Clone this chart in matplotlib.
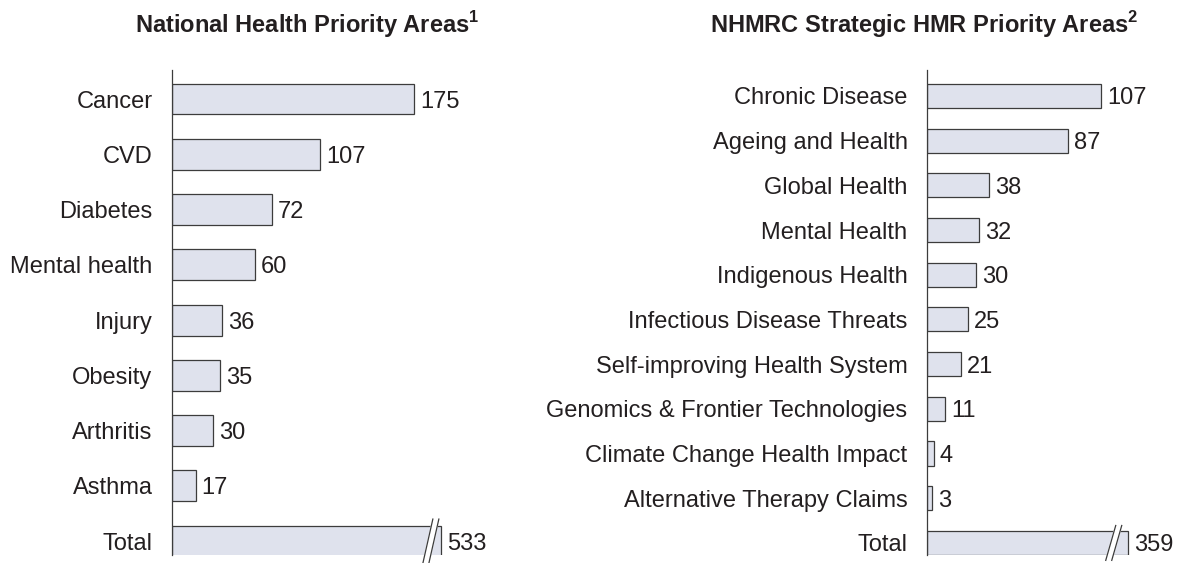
import numpy as np
import matplotlib
matplotlib.use("Agg")
from matplotlib import pyplot as plt

plt.rcParams['font.family'] = ['Liberation Sans', 'DejaVu Sans']
plt.rcParams['mathtext.fontset'] = 'custom'
plt.rcParams['mathtext.rm'] = 'Liberation Sans'
plt.rcParams['mathtext.bf'] = 'Liberation Sans:bold'

nhpa_labels = ["Cancer", "CVD", "Diabetes", "Mental health", "Injury",
               "Obesity", "Arthritis", "Asthma", "Total"]
nhpa_values = [175, 107, 72, 60, 36, 35, 30, 17, 533]

hmr_labels = ["Chronic Disease", "Ageing and Health", "Global Health",
              "Mental Health", "Indigenous Health", "Infectious Disease Threats",
              "Self-improving Health System", "Genomics & Frontier Technologies",
              "Climate Change Health Impact", "Alternative Therapy Claims", "Total"]
hmr_values = [107, 87, 38, 32, 30, 25, 21, 11, 4, 3, 359]

W, H = 1181, 563
fill = '#dfe2ed'
edge = '#3c3c3c'
txt = '#231f20'

fig = plt.figure(figsize=(W / 100, H / 100), dpi=100)


def panel(left_px, width_px, px_per_unit, labels, values, cap, brk,
          bar_h, top_pad, bot_pad):
    ax = fig.add_axes([left_px / W, 8 / H, width_px / W, 485 / H])
    n = len(values)
    y = np.arange(n)
    drawn = [min(v, cap) for v in values]
    ax.barh(y, drawn, height=bar_h, color=fill, edgecolor=edge, linewidth=0.9)
    for yi, v, d in zip(y, values, drawn):
        ax.text(d + 6 / px_per_unit, yi, str(v), va='center_baseline',
                ha='left', fontsize=17, color=txt)
    # axis break on the Total bar
    yt = y[-1]
    hh = bar_h / 2 + 0.12
    dx = 5 / px_per_unit
    gap = 6 / px_per_unit
    xs1 = [brk - dx, brk + dx]
    xs2 = [brk - dx + gap, brk + dx + gap]
    ys = [yt + hh, yt - hh]
    ax.fill([xs1[0], xs1[1], xs2[1], xs2[0]], [ys[0], ys[1], ys[1], ys[0]],
            color='white', zorder=3, clip_on=False)
    ax.plot(xs1, ys, color=edge, lw=0.9, zorder=4, clip_on=False)
    ax.plot(xs2, ys, color=edge, lw=0.9, zorder=4, clip_on=False)

    ax.set_xlim(0, width_px / px_per_unit)
    ax.set_ylim(n - 1 + bot_pad, -top_pad)
    ax.set_yticks(y)
    ax.set_yticklabels(labels, fontsize=17, color=txt)
    ax.tick_params(axis='y', length=0, pad=14)
    ax.set_xticks([])
    for s in ['top', 'right', 'bottom']:
        ax.spines[s].set_visible(False)
    ax.spines['left'].set_color(edge)
    ax.spines['left'].set_linewidth(0.9)
    return ax


panel(172, 300, 1.383, nhpa_labels, nhpa_values, cap=194.5, brk=185,
      bar_h=0.56, top_pad=0.525, bot_pad=0.25)
panel(927, 250, 1.626, hmr_labels, hmr_values, cap=123.6, brk=113,
      bar_h=0.54, top_pad=0.58, bot_pad=0.27)

fig.text(307 / W, 1 - 33 / H, r"National Health Priority Areas$^{\mathbf{1}}$",
         ha='center', va='baseline', fontsize=17, fontweight='bold', color=txt)
fig.text(924 / W, 1 - 33 / H, r"NHMRC Strategic HMR Priority Areas$^{\mathbf{2}}$",
         ha='center', va='baseline', fontsize=17, fontweight='bold', color=txt)

fig.savefig("out.png", dpi=100)
